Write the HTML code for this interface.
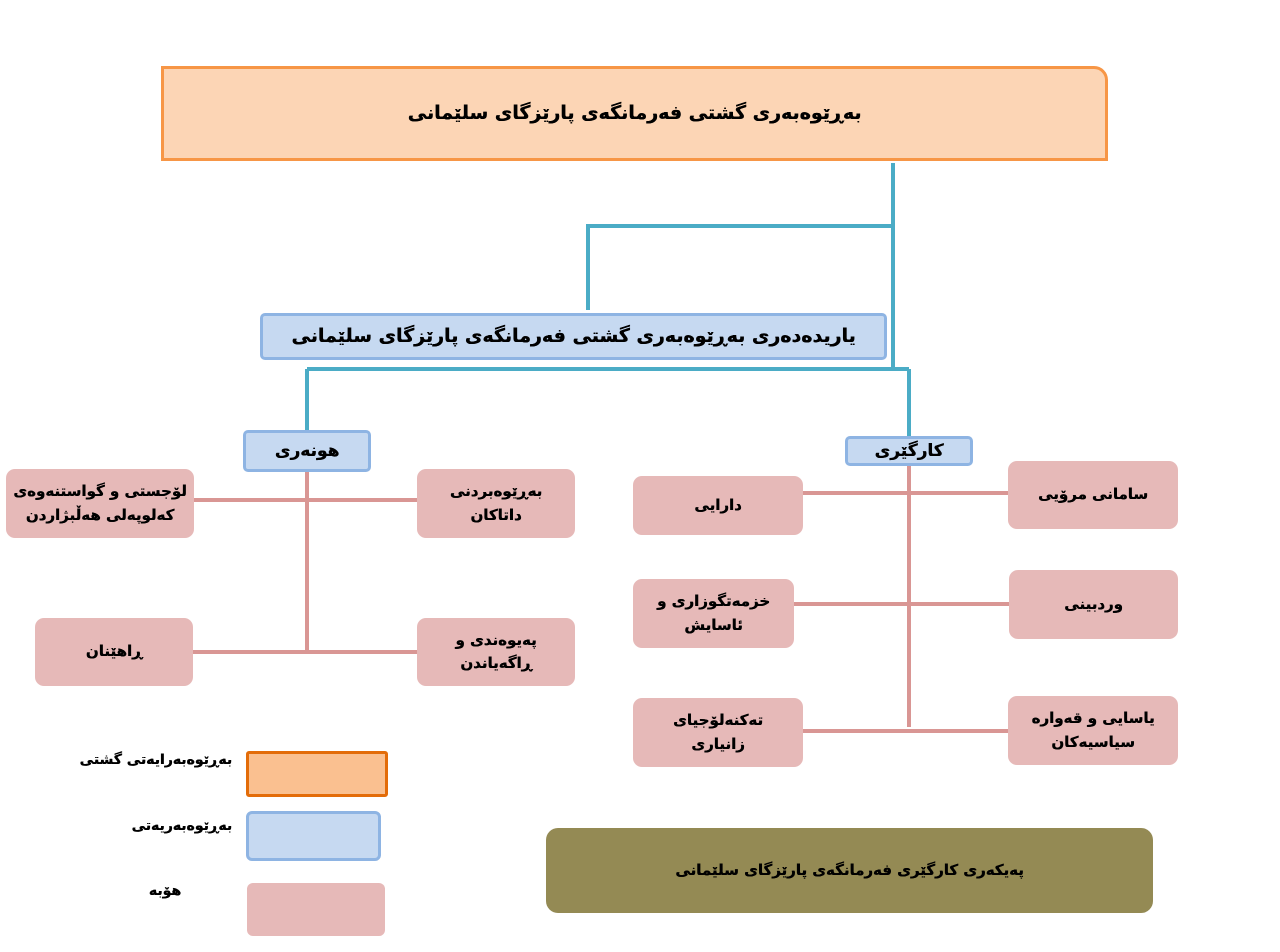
<!DOCTYPE html>
<html><head><meta charset="utf-8"><style>
body{margin:0;width:1280px;height:952px;background:#fff;position:relative;overflow:hidden;font-family:"DejaVu Sans","Noto Sans CJK SC",sans-serif;font-weight:bold;color:#000}
.b{position:absolute;box-sizing:border-box;display:flex;align-items:center;justify-content:center;text-align:center;direction:rtl;line-height:1.55;text-shadow:0.4px 0 0 #000}
.p{background:#e6b9b8;border-radius:9px;font-size:15px}
.bl{background:#c6d9f1;border:3px solid #8eb4e3;border-radius:5px}
.t{position:absolute;direction:rtl;font-size:14px;white-space:nowrap;text-shadow:0.4px 0 0 #000}
svg{position:absolute;left:0;top:0}
</style></head><body>
<svg width="1280" height="952">
<g stroke="#4bacc6" stroke-width="4" fill="none">
<path d="M893 163V369M893 226H588V310M307 369H909M307 369V431M909 369V436"/>
</g>
<g stroke="#d99694" stroke-width="4" fill="none">
<path d="M307 471V653M194 500H417M193 652H417M909 465V727M803 493H1008M794 604H1009M803 731H1008"/>
</g>
</svg>
<div class="b" style="left:161px;top:66px;width:947px;height:95px;background:#fcd5b5;border:3px solid #f79646;border-top-right-radius:14px;font-size:19px">بەڕێوەبەری گشتی فەرمانگەی پارێزگای سلێمانی</div>
<div class="b bl" style="left:260px;top:313px;width:627px;height:47px;font-size:19px">یاریدەدەری بەڕێوەبەری گشتی فەرمانگەی پارێزگای سلێمانی</div>
<div class="b bl" style="left:243px;top:430px;width:128px;height:42px;font-size:17px">هونەری</div>
<div class="b bl" style="left:845px;top:436px;width:128px;height:30px;font-size:17px">کارگێری</div>
<div class="b p" style="left:6px;top:469px;width:188px;height:69px">لۆجستی و گواستنەوەی<br>کەلوپەلی هەڵبژاردن</div>
<div class="b p" style="left:417px;top:469px;width:158px;height:69px">بەڕێوەبردنی<br>داتاکان</div>
<div class="b p" style="left:35px;top:618px;width:158px;height:68px">ڕاهێنان</div>
<div class="b p" style="left:417px;top:618px;width:158px;height:68px">پەیوەندی و<br>ڕاگەیاندن</div>
<div class="b p" style="left:633px;top:476px;width:170px;height:59px">دارایی</div>
<div class="b p" style="left:1008px;top:461px;width:170px;height:68px">سامانی مرۆیی</div>
<div class="b p" style="left:633px;top:579px;width:161px;height:69px">خزمەتگوزاری و<br>ئاسایش</div>
<div class="b p" style="left:1009px;top:570px;width:169px;height:69px">وردبینی</div>
<div class="b p" style="left:633px;top:698px;width:170px;height:69px">تەکنەلۆجیای<br>زانیاری</div>
<div class="b p" style="left:1008px;top:696px;width:170px;height:69px">یاسایی و قەوارە<br>سیاسیەکان</div>
<div class="b" style="left:246px;top:751px;width:142px;height:46px;background:#fac090;border:3px solid #e36c09;border-radius:3px"></div>
<div class="b" style="left:246px;top:811px;width:135px;height:50px;background:#c6d9f1;border:3px solid #8eb4e3;border-radius:6px"></div>
<div class="b" style="left:247px;top:883px;width:138px;height:53px;background:#e6b9b8;border-radius:6px"></div>
<div class="t" style="right:1048px;top:752px">بەڕێوەبەرایەتی گشتی</div>
<div class="t" style="right:1048px;top:818px">بەڕێوەبەریەتی</div>
<div class="t" style="right:1099px;top:883px">هۆبە</div>
<div class="b" style="left:546px;top:828px;width:607px;height:85px;background:#948a54;border-radius:12px;font-size:15px">پەیکەری کارگێری فەرمانگەی پارێزگای سلێمانی</div>
</body></html>
